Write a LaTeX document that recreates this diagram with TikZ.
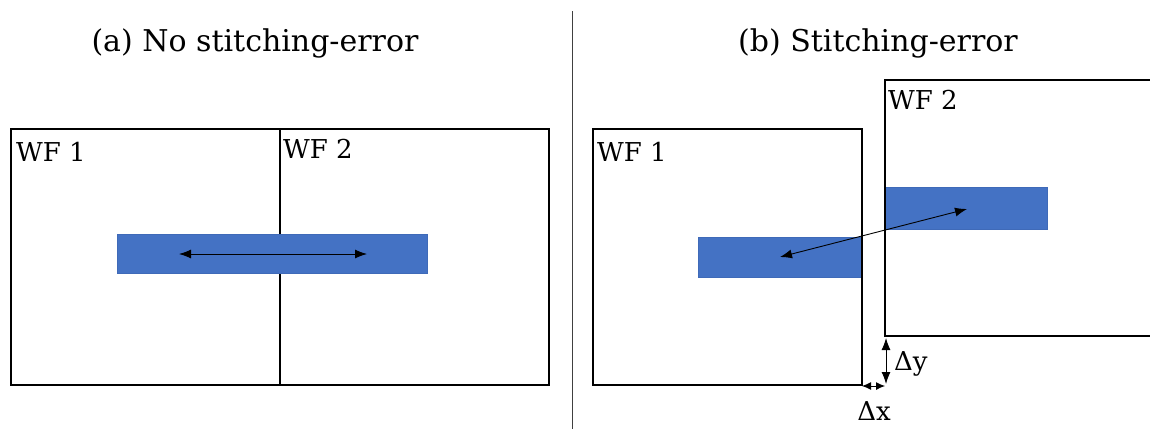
\documentclass[tikz,border=0pt]{standalone}
\usepackage{fontspec}
\setmainfont{DejaVu Serif}
\usetikzlibrary{arrows.meta}
\definecolor{barblue}{HTML}{4472C4}
\definecolor{baredge}{HTML}{3F6AB8}
\definecolor{sepgray}{HTML}{404040}
\begin{document}
\begin{tikzpicture}[x=1pt,y=-1pt,
  frame/.style={draw=black,line width=1.3pt,inner sep=0pt,outer sep=0pt,anchor=north west,minimum width=269pt,minimum height=256pt},
  bar/.style={fill=barblue,draw=baredge,line width=0.6pt,inner sep=0pt,outer sep=0pt,anchor=north west},
  dimarrow/.style={{Latex[length=12pt,width=9pt]}-{Latex[length=12pt,width=9pt]},line width=0.9pt},
  lbl/.style={font=\fontsize{26}{30}\selectfont,inner sep=0pt,anchor=base west},
  ttl/.style={font=\fontsize{30}{34}\selectfont,inner sep=0pt}]
\useasboundingbox (0,0) rectangle (1150,429);

% titles
\node[ttl] (ta) at (255,43) {(a) No stitching-error};
\node[ttl] (tb) at (878,43) {(b) Stitching-error};

% separator
\coordinate (s1) at (572,11);
\coordinate (s2) at (572,429);
\draw[sepgray,line width=0.9pt] (s1) -- (s2);

% panel (a)
\node[frame] (a1) at (11,129) {};
\node[frame] (a2) at (280,129) {};
\node[bar,minimum width=310pt,minimum height=39pt] (abar) at (117,234) {};
\node[lbl] (la1) at (16,161) {WF 1};
\node[lbl] (la2) at (283,158) {WF 2};
\coordinate (aL) at (179,254);
\coordinate (aR) at (367,254);
\draw[dimarrow] (aL) -- (aR);

% panel (b)
\node[frame] (b1) at (593,129) {};
\node[frame,minimum width=280pt] (b2) at (885,80) {};
\node[bar,minimum width=164pt,minimum height=40pt] (bbar1) at (698,237) {};
\node[bar,minimum width=162pt,minimum height=42pt] (bbar2) at (885,187) {};
\draw[black,line width=1.3pt] (b1.north east) -- (b1.south east);
\draw[black,line width=1.3pt] (b2.north west) -- (b2.south west);
\node[lbl] (lb1) at (597,161) {WF 1};
\node[lbl] (lb2) at (888,109) {WF 2};
\coordinate (bL) at (780,257);
\coordinate (bR) at (967,209);
\draw[dimarrow] (bL) -- (bR);

% offsets
\coordinate (dyT) at (886,338);
\coordinate (dyB) at (886,384);
\draw[dimarrow] (dyT) -- (dyB);
\coordinate (dxL) at (862,386);
\coordinate (dxR) at (885,386);
\draw[{Latex[length=9pt,width=8pt]}-{Latex[length=9pt,width=8pt]},line width=0.9pt] (dxL) -- (dxR);
\node[lbl,anchor=west] (ldy) at (894,364) {Δy};
\node[lbl,anchor=center] (ldx) at (874,411) {Δx};
\end{tikzpicture}
\end{document}
